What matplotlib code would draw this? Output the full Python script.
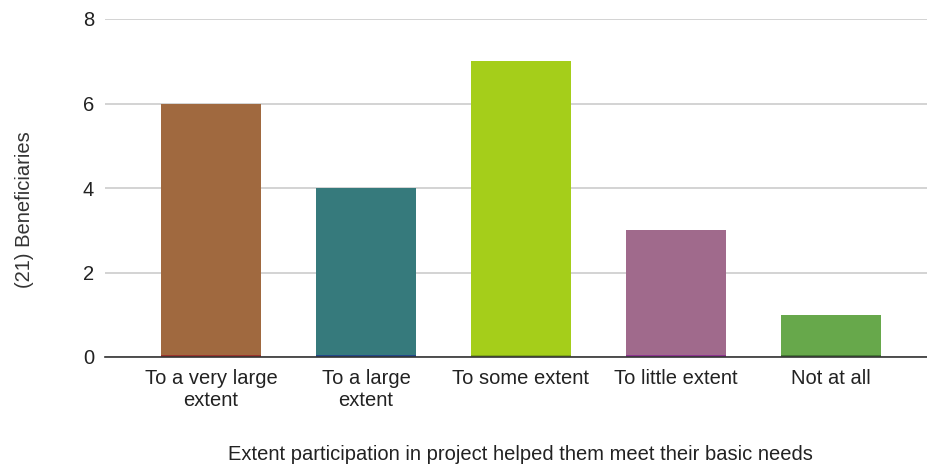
import matplotlib
matplotlib.use("Agg")
import matplotlib.pyplot as plt

categories = ["To a very large\nextent", "To a large\nextent", "To some extent",
              "To little extent", "Not at all"]
counts = [6, 4, 7, 3, 1]
colors = ["#a0693f", "#367a7c", "#a5ce1a", "#a06a8c", "#67a84b"]
base_colors = ["#9c2a2a", "#1f3f8c", "#7aa018", "#8a2a90", "#3f7030"]
yticks = [0, 2, 4, 6, 8]

plt.rcParams["font.family"] = ["Liberation Sans", "DejaVu Sans"]
FS = 14.5

fig = plt.figure(figsize=(9.27, 4.66), dpi=100)
ax = fig.add_axes([105 / 927, 1 - 357 / 466, 822 / 927, 338 / 466])

x = list(range(len(counts)))
bars = ax.bar(x, counts, width=0.645, color=colors, zorder=3)
# thin darker strip along each bar's base
for b, bc in zip(bars, base_colors):
    ax.plot([b.get_x(), b.get_x() + b.get_width()], [0.02, 0.02], color=bc,
            lw=1.2, zorder=4, solid_capstyle="butt")

ax.set_xlim(-0.684, 4.62)
ax.set_ylim(0, 8)
ax.set_yticks(yticks)
ax.set_xticks(x)
ax.set_xticklabels(categories, fontsize=FS, color="#222222", linespacing=1.2)
ax.tick_params(axis="y", labelsize=FS, labelcolor="#222222", length=0, pad=8)
ax.tick_params(axis="x", length=0, pad=9)
ax.grid(axis="y", color="#d0d0d0", lw=1.3, zorder=0)
for s in ["top", "right", "left"]:
    ax.spines[s].set_visible(False)
ax.spines["bottom"].set_color("#333333")
ax.spines["bottom"].set_linewidth(1.2)
ax.spines["bottom"].set_zorder(5)

fig.text(25 / 927, 1 - 210 / 466, "(21) Beneficiaries", rotation=90,
         ha="center", va="center", fontsize=FS, color="#333333")
fig.text(520 / 927, 1 - 455 / 466,
         "Extent participation in project helped them meet their basic needs",
         ha="center", va="center", fontsize=FS, color="#222222")

fig.savefig("out.png", dpi=100)
